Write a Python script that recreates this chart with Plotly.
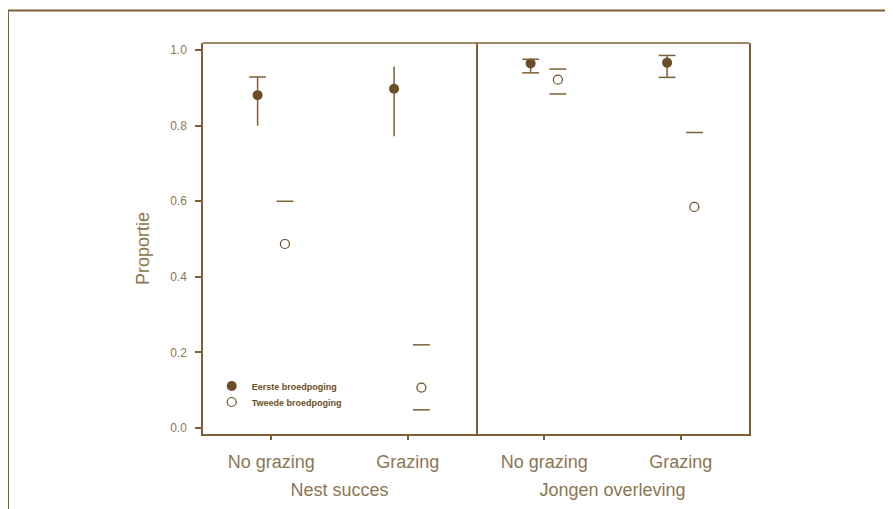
import plotly.graph_objects as go

# ---- data ----
groups = ["No grazing", "Grazing"]
panels = ["Nest succes", "Jongen overleving"]

# Eerste broedpoging (filled)
eerste_nest = [0.881, 0.898]
eerste_nest_lo = [0.800, 0.772]
eerste_nest_hi = [0.929, 0.957]
eerste_nest_cap_hi = [0.929, None]
eerste_nest_cap_lo = [None, None]

eerste_jong = [0.965, 0.967]
eerste_jong_lo = [0.940, 0.928]
eerste_jong_hi = [0.976, 0.986]
eerste_jong_cap_hi = [0.976, 0.986]
eerste_jong_cap_lo = [0.940, 0.928]

# Tweede broedpoging (open)
tweede_nest = [0.487, 0.107]
tweede_nest_cap_hi = [0.600, 0.220]
tweede_nest_cap_lo = [None, 0.048]

tweede_jong = [0.922, 0.585]
tweede_jong_cap_hi = [0.950, 0.782]
tweede_jong_cap_lo = [0.884, None]

y_ticks = [0.0, 0.2, 0.4, 0.6, 0.8, 1.0]

# ---- styling ----
MARK = "#6b4e27"
LINE = "#7d6036"
TEXT = "#8b7652"
FONT = "Arial, Liberation Sans, sans-serif"
DODGE = 0.1
OFF = 8  # page body margin

# plot area in page pixels (reference): left 203, top 43, right 749, bottom 434
L, T, W, H = 203 - OFF, 43 - OFF, 546, 391
BOT = 434


def px_x(px):
    return (px - 203) / W


def px_y(py):
    return (BOT - py) / H


fig = go.Figure()


def add_panel(xa, ya, e_val, e_lo, e_hi, e_cap_hi, e_cap_lo, t_val, t_cap_hi, t_cap_lo, legend):
    idx = list(range(len(groups)))
    xe = [i - DODGE for i in idx]
    xt = [i + DODGE for i in idx]
    fig.add_trace(go.Scatter(
        x=xe, y=e_val, mode="markers", xaxis=xa, yaxis=ya,
        name="Eerste broedpoging", showlegend=legend, legend="legend",
        marker=dict(symbol="circle", size=10, color=MARK),
        error_y=dict(type="data", symmetric=False,
                     array=[h - v for h, v in zip(e_hi, e_val)],
                     arrayminus=[v - l for v, l in zip(e_val, e_lo)],
                     color=LINE, thickness=1.5, width=0),
    ))
    fig.add_trace(go.Scatter(
        x=xt, y=t_val, mode="markers", xaxis=xa, yaxis=ya,
        name="Tweede broedpoging", showlegend=legend, legend="legend2",
        marker=dict(symbol="circle-open", size=9, color=MARK, line=dict(width=1.2, color=MARK)),
    ))
    for xs, caps in [(xe, e_cap_hi), (xe, e_cap_lo), (xt, t_cap_hi), (xt, t_cap_lo)]:
        fig.add_trace(go.Scatter(
            x=xs, y=caps, mode="markers", xaxis=xa, yaxis=ya, showlegend=False,
            hoverinfo="skip",
            marker=dict(symbol="line-ew", size=12, color=LINE, line=dict(width=1.5, color=LINE)),
        ))


add_panel("x", "y", eerste_nest, eerste_nest_lo, eerste_nest_hi, eerste_nest_cap_hi, eerste_nest_cap_lo,
          tweede_nest, tweede_nest_cap_hi, tweede_nest_cap_lo, True)
add_panel("x2", "y2", eerste_jong, eerste_jong_lo, eerste_jong_hi, eerste_jong_cap_hi, eerste_jong_cap_lo,
          tweede_jong, tweede_jong_cap_hi, tweede_jong_cap_lo, False)

xcommon = dict(range=[-0.5, 1.5], tickmode="array", tickvals=[0, 1], ticktext=groups,
               showline=True, linecolor=LINE, linewidth=1.5, mirror=False,
               ticks="outside", ticklen=4, tickcolor=LINE, tickwidth=1.5,
               showgrid=False, zeroline=False, ticklabelstandoff=7,
               tickfont=dict(family=FONT, size=18, color=TEXT),
               title_font=dict(family=FONT, size=18, color=TEXT), title_standoff=12)

legfont = dict(family=FONT, size=9, color=MARK, weight="bold")

fig.update_layout(
    width=893, height=509,
    margin=dict(l=L, r=893 - L - W, t=T, b=509 - T - H),
    paper_bgcolor="white", plot_bgcolor="white",
    font=dict(family=FONT, color=TEXT),
    xaxis=dict(domain=[0, 0.5], title_text=panels[0], **xcommon),
    xaxis2=dict(domain=[0.5, 1], title_text=panels[1], anchor="y2", **xcommon),
    yaxis=dict(range=[-0.016, 1.019], tickmode="array", tickvals=y_ticks,
               ticktext=[f"{v:.1f}" for v in y_ticks],
               showline=True, linecolor=LINE, linewidth=1.5, mirror=True,
               showgrid=False, zeroline=False,
               ticks="outside", ticklen=6, tickcolor=LINE, tickwidth=1.5,
               tickfont=dict(family=FONT, size=12, color=TEXT), ticklabelstandoff=6),
    yaxis2=dict(range=[-0.016, 1.019], anchor="x2", side="right", showticklabels=False, ticks="",
                showline=True, linecolor=LINE, linewidth=1.5, mirror=False,
                showgrid=False, zeroline=False),
    showlegend=True,
    legend=dict(x=0.016, y=px_y(386), xanchor="left", yanchor="middle", bgcolor="rgba(0,0,0,0)",
                font=legfont),
    legend2=dict(x=0.016, y=px_y(402), xanchor="left", yanchor="middle", bgcolor="rgba(0,0,0,0)",
                 font=legfont),
    annotations=[
        dict(text="Proportie", xref="paper", yref="paper", x=px_x(143), y=px_y(249),
             xanchor="center", yanchor="middle", textangle=-90, showarrow=False,
             font=dict(family=FONT, size=18, color=TEXT)),
        # top border of the plot (x axes are not mirrored, so draw it once across both panels)
    ],
    shapes=[
        dict(type="line", xref="paper", yref="paper", x0=0, x1=1, y0=1, y1=1,
             line=dict(color=LINE, width=1.5)),
        dict(type="line", xref="paper", yref="paper", x0=px_x(8), x1=px_x(910),
             y0=px_y(10.5), y1=px_y(10.5), line=dict(color=LINE, width=2)),
        dict(type="line", xref="paper", yref="paper", x0=px_x(8), x1=px_x(8),
             y0=px_y(10.5), y1=px_y(530), line=dict(color=LINE, width=2)),
    ],
)

fig.write_html("out.html")
